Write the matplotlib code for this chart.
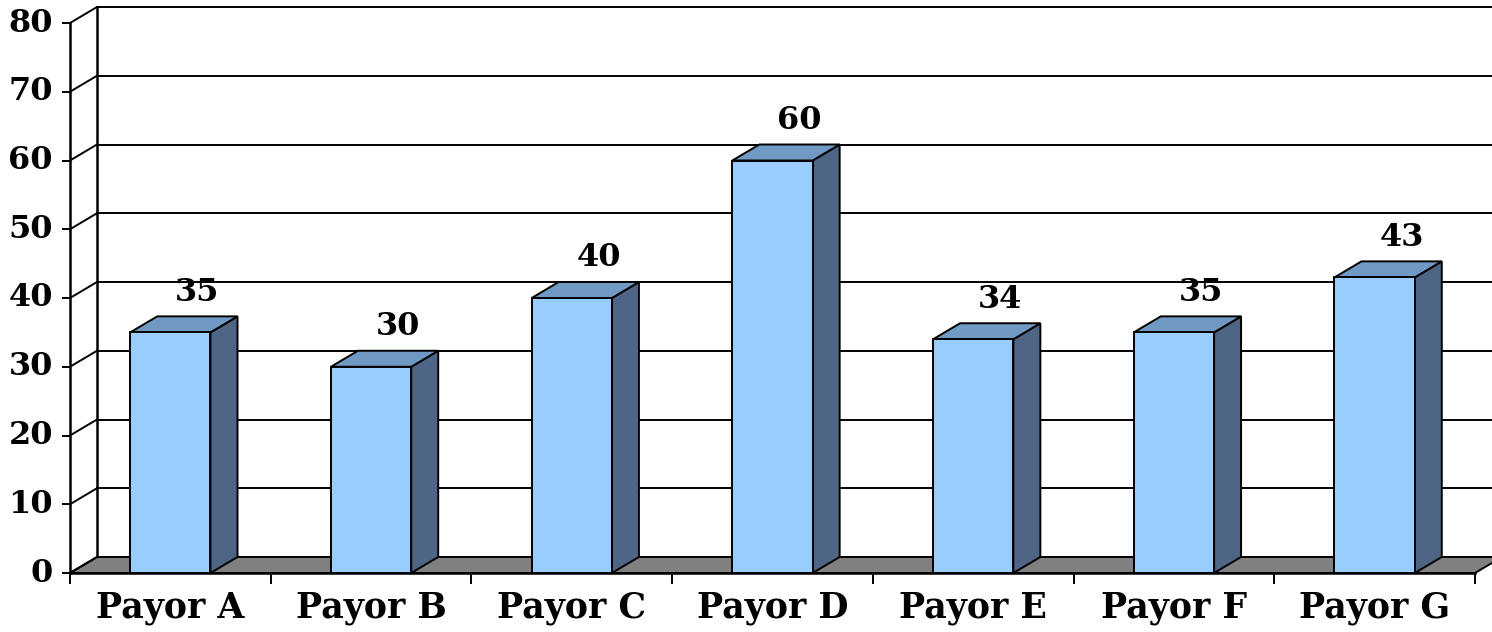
import numpy as np
import matplotlib
matplotlib.use("Agg")
import matplotlib.pyplot as plt
from matplotlib.patches import Polygon

# data
categories = ["Payor A", "Payor B", "Payor C", "Payor D", "Payor E", "Payor F", "Payor G"]
values = [35, 30, 40, 60, 34, 35, 43]
y_ticks = [0, 10, 20, 30, 40, 50, 60, 70, 80]

W, H = 1492, 632
fig = plt.figure(figsize=(W / 100, H / 100), dpi=100)
# front plane of the chart
x0, x1, y0, y1 = 70, 1475, 573, 23
ax = fig.add_axes([x0 / W, 1 - y0 / H, (x1 - x0) / W, (y0 - y1) / H])
n = len(categories)
ax.set_xlim(0, n)
ax.set_ylim(0, 80)
ax.axis("off")

# 3d depth offset in data units
px_x = n / (x1 - x0)
px_y = 80 / (y0 - y1)
dx, dy = 27 * px_x, 16 * px_y

font = dict(family="DejaVu Serif", fontweight="bold", fontsize=23)
lw = 1.4

# floor
ax.add_patch(Polygon([(0, 0), (n, 0), (n + dx, dy), (dx, dy)], closed=True,
                     facecolor="#808080", edgecolor="black", lw=lw, clip_on=False, zorder=1))

# back wall gridlines + side wall
for v in y_ticks:
    ax.plot([dx, n + dx], [v + dy, v + dy], color="black", lw=lw, clip_on=False, zorder=0.5)
    ax.plot([0, dx], [v, v + dy], color="black", lw=lw, clip_on=False, zorder=2)
    ax.plot([-7 * px_x, 0], [v, v], color="black", lw=lw, clip_on=False, zorder=2)
    ax.text(-17 * px_x, v, str(v), ha="right", va="center", **font)
ax.plot([0, 0], [0, 80], color="black", lw=1.8, clip_on=False, zorder=2)
ax.plot([dx, dx], [dy, 80 + dy], color="black", lw=1.8, clip_on=False, zorder=0.6)

# x axis ticks
for i in range(n + 1):
    ax.plot([i, i], [0, -10 * px_y], color="black", lw=lw, clip_on=False, zorder=2)
ax.plot([0, n], [0, 0], color="black", lw=1.8, clip_on=False, zorder=2)

# bars
bw = 0.4
for i, (cat, v) in enumerate(zip(categories, values)):
    l, r = i + 0.5 - bw / 2, i + 0.5 + bw / 2
    side = [(r, 0), (r + dx, dy), (r + dx, v + dy), (r, v)]
    top = [(l, v), (r, v), (r + dx, v + dy), (l + dx, v + dy)]
    front = [(l, 0), (r, 0), (r, v), (l, v)]
    ax.add_patch(Polygon(side, closed=True, facecolor="#4F6585", edgecolor="black", lw=lw, clip_on=False, zorder=3))
    ax.add_patch(Polygon(top, closed=True, facecolor="#709AC4", edgecolor="black", lw=lw, clip_on=False, zorder=3))
    ax.add_patch(Polygon(front, closed=True, facecolor="#99CCFF", edgecolor="black", lw=lw, clip_on=False, zorder=3))
    ax.text(i + 0.5 + dx, v + 40 * px_y, str(v), ha="center", va="center", zorder=4, **font)
    ax.text(i + 0.5, -35 * px_y, cat, ha="center", va="center",
            family="DejaVu Serif", fontweight="bold", fontsize=25)

fig.savefig("out.png", dpi=100)
